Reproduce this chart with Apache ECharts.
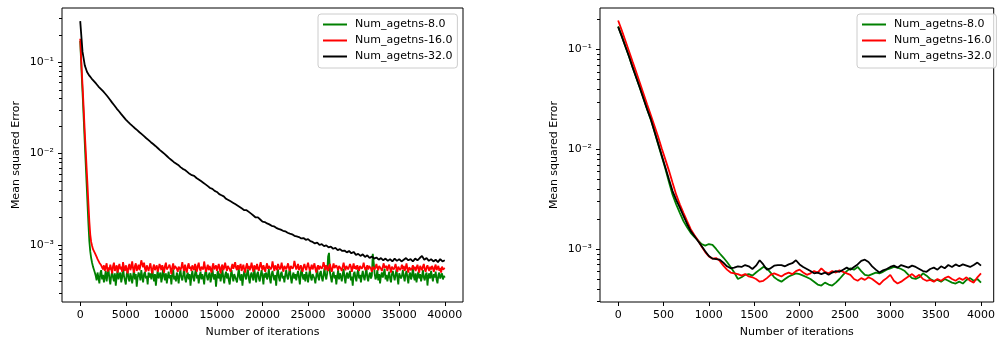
<!DOCTYPE html>
<html><head><meta charset="utf-8">
<script src="https://cdn.jsdelivr.net/npm/echarts/dist/echarts.min.js"></script>
<style>html,body{margin:0;padding:0;background:#fff}#c{width:998px;height:343px}</style>
</head><body><div id="c"></div>
<script>
const seriesNames = ['Num_agetns-8.0', 'Num_agetns-16.0', 'Num_agetns-32.0'];
const seriesColors = ['#008000', '#ff0000', '#000000'];

// Left panel: values in units of 1e-4
const leftUnit = 1e-4;
const leftGreenStep = 100;
const leftGreen = [1700,1000,600,370,220,130,78,47,28,17,11,8.5,7.2,6.4,5.8,5.4,5.0,
 4.6,4.1,5.0,4.4,3.8,4.9,5.3,4.2,4.7,3.9,4.5,5.2,4.0,4.8,5.5,4.3,3.7,4.6,5.1,4.4,
 4.0,4.9,3.6,4.5,5.3,4.2,4.7,5.0,3.9,4.4,5.6,4.6,4.1,3.7,4.8,5.2,4.3,4.0,4.9,4.5,
 3.8,4.6,5.4,4.2,4.8,3.5,4.4,5.0,4.7,4.1,5.3,4.5,3.9,4.8,5.1,4.3,4.6,3.7,5.0,4.4,
 4.9,4.2,5.5,4.6,4.0,4.8,3.6,4.5,5.2,4.3,4.7,5.0,3.9,4.4,5.7,4.6,4.1,4.9,3.8,4.5,
 5.1,4.3,4.7,3.7,4.9,5.4,4.2,4.6,4.0,5.0,4.5,3.8,4.8,5.3,4.4,4.1,4.7,5.6,4.3,3.9,
 4.6,5.0,4.2,4.8,3.6,4.5,5.2,4.4,4.0,4.9,5.5,4.3,4.7,3.8,4.6,5.1,4.2,4.8,4.4,3.7,
 4.9,5.3,4.5,4.1,4.7,5.0,3.9,4.4,5.6,4.6,4.2,4.8,3.5,4.5,5.2,4.3,4.9,4.0,4.6,5.4,
 4.4,3.8,4.7,5.1,4.3,4.9,4.1,3.7,4.6,5.3,4.5,4.0,4.8,5.0,4.2,3.9,4.7,5.5,4.4,4.1,
 4.8,3.6,4.5,5.2,4.6,4.2,4.9,5.4,4.3,3.8,4.7,5.0,4.4,4.1,5.6,4.6,3.9,4.8,5.1,4.3,
 4.0,4.7,5.3,4.5,3.7,4.9,4.4,5.0,4.2,4.6,5.5,4.3,3.8,4.8,5.2,4.5,4.1,4.7,3.6,4.9,
 5.4,4.4,4.0,4.8,5.1,4.3,4.6,3.9,4.7,5.3,4.5,4.2,4.9,5.6,4.4,3.8,4.6,5.0,4.3,4.8,
 4.1,4.7,5.2,4.4,3.7,4.9,5.5,4.5,4.2,4.8,4.0,5.1,4.6,3.9,4.7,5.3,4.4,4.1,4.8,5.0,
 4.3,3.8,4.6,5.4,4.5,4.1,4.9,5.2,4.4,4.0,4.7,5.6,4.6,4.2,4.9,7.5,8.2,5.0,4.4,3.9,
 4.8,5.1,4.3,4.7,3.7,4.6,5.3,4.2,4.9,4.5,4.0,4.8,5.5,4.4,3.8,4.7,5.0,4.3,4.6,5.2,
 4.1,4.5,3.6,4.8,5.1,4.4,4.0,4.9,5.4,4.3,4.7,3.9,4.6,5.2,4.5,4.1,4.8,5.7,4.4,4.0,
 4.7,5.0,4.3,4.6,8.0,6.5,4.9,4.2,4.5,5.3,4.1,4.8,3.8,4.6,5.0,4.4,4.9,5.5,4.2,4.7,
 4.0,4.5,5.1,4.3,3.9,4.8,5.2,4.6,4.1,4.7,5.4,4.4,3.7,4.9,5.0,4.3,4.6,5.3,4.5,4.0,
 4.8,5.2,4.4,3.8,4.7,5.0,4.2,4.6,5.6,4.5,4.1,4.9,3.9,4.6,5.1,4.3,4.8,4.0,4.5,5.3,
 4.4,4.1,4.7,5.0,3.6,4.6,4.9,4.3,5.2,4.5,4.0,4.8,4.4,5.1,4.2,3.8,4.7,5.0,4.3,4.5,
 4.9,4.2,4.6,4.4];
const leftRedStep = 100;
const leftRed = [1800,1100,700,450,280,170,110,70,45,28,18,13,10.8,9.8,9.0,8.6,8.2,7.8,7.4,7.0,6.8,6.4,6.2,6.0,5.8,
 5.4,6.0,5.2,5.8,6.3,5.1,5.7,5.3,6.1,5.5,4.9,5.9,6.4,5.2,5.6,6.0,5.0,5.7,6.2,5.4,
 5.8,5.1,6.5,5.6,5.2,6.0,5.4,4.9,5.8,6.2,5.3,5.7,6.6,5.5,5.0,5.9,6.3,5.2,5.6,6.1,
 5.3,5.9,6.8,6.2,5.7,6.4,5.5,5.1,6.0,5.6,5.2,5.8,6.3,5.4,4.9,5.7,6.1,5.3,5.6,6.0,
 5.1,5.5,6.2,5.8,5.3,6.0,5.6,5.0,5.9,6.4,5.4,5.2,5.8,6.1,5.5,4.8,5.7,6.3,5.4,5.9,
 6.2,5.5,5.1,5.8,6.0,5.3,5.7,6.5,5.6,5.2,6.1,5.4,5.0,5.9,6.3,5.5,5.8,5.2,6.0,5.6,
 5.3,6.2,5.7,5.1,5.9,6.4,5.5,5.2,5.8,6.0,5.4,6.6,5.7,5.1,5.6,6.1,5.3,5.9,5.5,5.0,
 5.8,6.3,5.4,5.6,6.0,5.2,5.7,6.2,5.5,4.9,5.8,6.1,5.3,5.6,6.4,5.7,5.2,5.9,6.0,5.4,
 5.1,5.7,6.2,5.5,5.9,6.5,5.6,5.3,6.0,5.4,5.8,6.2,5.2,5.6,6.1,5.4,5.0,5.8,6.3,5.5,
 5.9,5.3,5.7,6.4,5.6,5.1,6.0,5.8,5.4,6.2,5.5,5.2,5.9,6.5,5.7,5.3,6.0,5.6,5.1,5.8,
 6.3,5.5,5.9,6.1,5.4,5.7,6.6,5.8,5.2,6.0,5.6,5.3,6.2,5.9,5.4,5.7,6.4,5.5,5.1,5.9,
 6.0,5.4,5.8,6.3,5.6,5.2,5.9,6.1,5.5,5.8,6.7,6.0,5.4,5.7,6.2,5.3,5.6,6.0,5.5,5.1,
 5.8,6.2,5.6,5.3,5.9,6.4,5.7,5.2,5.6,6.1,5.4,5.8,6.3,5.5,5.0,5.7,6.0,5.4,5.9,6.2,
 5.5,5.8,6.5,5.9,5.3,6.0,5.6,5.2,5.8,6.2,5.5,5.1,5.7,6.3,5.6,5.4,6.0,5.8,5.3,5.9,
 6.1,5.5,5.2,5.8,6.4,5.7,5.3,5.9,6.0,5.4,5.6,6.2,5.8,5.1,5.7,6.3,5.5,5.9,5.4,6.0,
 5.6,5.2,5.9,6.1,5.5,5.8,6.4,5.7,5.3,5.6,6.0,5.4,5.9,6.2,5.5,5.1,5.8,6.0,5.4,5.7,
 6.2,5.6,5.3,5.9,6.1,5.5,5.2,5.8,6.3,5.6,5.4,5.9,5.2,5.7,6.1,5.5,5.0,5.8,6.0,5.4,
 5.7,6.2,5.5,5.1,5.8,6.0,5.3,5.6,6.1,5.4,5.9,5.2,5.6,6.3,5.5,5.0,5.7,5.9,5.3,5.6,
 6.0,5.4,5.8,5.2,5.6,6.1,5.5,5.0,5.9,5.7,5.3,5.8,6.2,5.4,5.1,5.7,6.0,5.5,5.2,5.8,
 5.4,5.9,5.6,5.1,5.7,6.1,5.3,5.5,5.9,5.2,5.6,5.0,5.8,5.4,5.2,5.6];
const leftBlackStep = 250;
const leftBlack = [2800,1300,920,780,710,660,620,580,540,510,
 480,450,420,390,360,335,310,290,270,252,
 235,222,210,199,189,180,171,163,155,147,
 140,133,127,121,115,109,104,99,94,89,
 85,81,78,75,71,68,66,63,60,58,
 57,54,52,50,48,46,44,42,41,39,
 38,36,35,34,32,31,30,29,28,27,
 26,25,24,24,23,22,21,20,20,19,
 18,17.8,17.2,16.8,16.2,16.0,15.4,15.0,14.7,14.3,
 14.1,13.6,13.3,13.1,12.6,12.4,12.2,11.8,11.9,11.4,
 11.6,11.0,10.8,10.4,10.6,10.0,10.2,9.7,9.9,9.4,
 9.6,9.1,9.3,8.8,9.0,8.6,8.7,8.3,8.6,8.1,
 8.4,7.8,8.0,7.6,7.9,7.4,7.7,7.2,7.5,7.1,
 7.3,6.9,7.2,6.8,7.1,6.7,7.0,6.6,7.1,6.7,
 7.0,6.6,6.9,7.2,6.8,7.0,6.6,7.1,6.8,7.2,
 7.6,6.9,7.2,6.7,7.0,6.6,6.9,6.5,7.0,6.6,
 6.8];

// Right panel: iterations 0..4000 sampled every 40
const rightStep = 40;
const rightGreen = [0.170,0.136,0.107,0.085,0.066,0.052,0.041,0.032,0.025,0.0198,
 0.0150,0.0113,0.0085,0.0064,0.0047,0.0035,0.0028,0.0023,0.0019,0.00165,
 0.00145,0.00132,0.00122,0.00112,0.00108,0.00112,0.00110,0.00100,0.00090,0.00082,
 0.00074,0.00066,0.00058,0.00050,0.00052,0.00055,0.00056,0.00054,0.00058,0.00062,
 0.00066,0.00064,0.00058,0.00052,0.00049,0.00047,0.00050,0.00053,0.00055,0.00057,
 0.00056,0.00054,0.00052,0.00050,0.00047,0.00044,0.00043,0.00046,0.00044,0.00043,
 0.00046,0.00050,0.00055,0.00060,0.00064,0.00062,0.00066,0.00060,0.00055,0.00054,
 0.00056,0.00058,0.00057,0.00059,0.00062,0.00064,0.00066,0.00065,0.00063,0.00060,
 0.00055,0.00051,0.00050,0.00052,0.00057,0.00054,0.00050,0.00048,0.00049,0.00047,
 0.00050,0.00048,0.00046,0.00045,0.00047,0.00045,0.00049,0.00051,0.00048,0.00050,
 0.00046];
const rightRed = [0.195,0.155,0.122,0.096,0.075,0.059,0.046,0.036,0.028,0.022,
 0.0172,0.0134,0.0102,0.0079,0.0061,0.0046,0.0035,0.0028,0.0023,0.0019,
 0.00158,0.00138,0.00122,0.00106,0.00093,0.00084,0.00080,0.00081,0.00076,0.00068,
 0.00062,0.00058,0.00057,0.00056,0.00054,0.00056,0.00053,0.00052,0.00050,0.00047,
 0.00048,0.00051,0.00055,0.00057,0.00055,0.00053,0.00056,0.00058,0.00056,0.00060,
 0.00062,0.00058,0.00055,0.00057,0.00060,0.00058,0.00064,0.00059,0.00057,0.00060,
 0.00058,0.00061,0.00059,0.00057,0.00055,0.00050,0.00048,0.00051,0.00049,0.00052,
 0.00050,0.00047,0.00044,0.00048,0.00051,0.00055,0.00048,0.00045,0.00047,0.00050,
 0.00053,0.00056,0.00052,0.00055,0.00050,0.00048,0.00049,0.00047,0.00050,0.00048,
 0.00051,0.00053,0.00050,0.00048,0.00051,0.00049,0.00052,0.00048,0.00046,0.00052,
 0.00057];
const rightBlack = [0.168,0.135,0.107,0.085,0.066,0.052,0.041,0.032,0.025,0.020,
 0.0151,0.0115,0.0087,0.0066,0.0050,0.0038,0.0031,0.0026,0.00214,0.00178,
 0.00151,0.00135,0.0012,0.00107,0.00095,0.00085,0.00080,0.00079,0.00078,0.00073,
 0.00067,0.00064,0.00065,0.00067,0.00066,0.00069,0.00067,0.00063,0.00068,0.00077,
 0.00070,0.00062,0.00064,0.00068,0.00069,0.00069,0.00067,0.00070,0.00072,0.00077,
 0.00070,0.00066,0.00063,0.00060,0.00057,0.00058,0.00056,0.00058,0.00055,0.00058,
 0.00060,0.00059,0.00062,0.00065,0.00062,0.00066,0.00070,0.00076,0.00078,0.00074,
 0.00067,0.00062,0.00058,0.00061,0.00063,0.00066,0.00068,0.00065,0.00069,0.00067,
 0.00065,0.00068,0.00066,0.00063,0.00060,0.00059,0.00063,0.00065,0.00062,0.00067,
 0.00064,0.00069,0.00066,0.00070,0.00067,0.00070,0.00068,0.00066,0.00069,0.00073,
 0.00068];

const xTicksLeft = [0,5000,10000,15000,20000,25000,30000,35000,40000];
const xTicksRight = [0,500,1000,1500,2000,2500,3000,3500,4000];
const yMajorTicks = [0.001, 0.01, 0.1];
const yMajorLabels = ['10\u207B\u00B3', '10\u207B\u00B2', '10\u207B\u00B9'];
const yMinorLeft = [0.0003,0.0004,0.0005,0.0006,0.0007,0.0008,0.0009,
 0.002,0.003,0.004,0.005,0.006,0.007,0.008,0.009,
 0.02,0.03,0.04,0.05,0.06,0.07,0.08,0.09,0.2,0.3];
const yMinorRight = [0.0003,0.0004,0.0005,0.0006,0.0007,0.0008,0.0009,
 0.002,0.003,0.004,0.005,0.006,0.007,0.008,0.009,
 0.02,0.03,0.04,0.05,0.06,0.07,0.08,0.09,0.2];

const leftRange = { xmin: -2000, xmax: 42000, ymin: 2.38e-4, ymax: 0.39 };
const rightRange = { xmin: -200, xmax: 4140, ymin: 2.94e-4, ymax: 0.26 };

const FONT = 'DejaVu Sans';
const FS = 11;

function pairs(step, arr, unit) {
  return arr.map((v, i) => [i * step, v * unit]);
}
function yLabel(v) {
  for (let i = 0; i < yMajorTicks.length; i++) {
    if (Math.abs(v - yMajorTicks[i]) / yMajorTicks[i] < 1e-6) return yMajorLabels[i];
  }
  return '';
}
function xAxisCfg(gi, r, ticks) {
  return {
    type: 'value', gridIndex: gi, min: r.xmin, max: r.xmax,
    axisLine: { show: false, onZero: false },
    splitLine: { show: false },
    axisTick: { show: true, customValues: ticks, length: 4, lineStyle: { color: '#000', width: 1 } },
    axisLabel: { customValues: ticks, color: '#000', fontSize: FS, fontFamily: FONT, margin: 8,
      formatter: (v) => String(v) },
    name: 'Number of iterations', nameLocation: 'middle', nameGap: 25,
    nameTextStyle: { color: '#000', fontSize: FS, fontFamily: FONT }
  };
}
function yAxisCfg(gi, r) {
  return {
    type: 'log', logBase: 10, gridIndex: gi, min: r.ymin, max: r.ymax,
    axisLine: { show: false, onZero: false },
    splitLine: { show: false },
    minorTick: { show: false },
    axisTick: { show: true, customValues: yMajorTicks, length: 4, lineStyle: { color: '#000', width: 1 } },
    axisLabel: { customValues: yMajorTicks, margin: 8, formatter: yLabel,
      color: '#000', fontSize: FS, fontFamily: FONT },
    name: 'Mean squared Error', nameLocation: 'middle', nameRotate: 90, nameGap: 40,
    nameTextStyle: { color: '#000', fontSize: FS, fontFamily: FONT }
  };
}
function minorTickSeries(gi, r, ticks) {
  return {
    type: 'custom', xAxisIndex: gi, yAxisIndex: gi, clip: false, silent: true, z: 5,
    data: ticks.map(v => [r.xmin, v]),
    renderItem: function (params, api) {
      const p = api.coord([api.value(0), api.value(1)]);
      const y = Math.round(p[1]) + 0.5;
      return { type: 'line', shape: { x1: p[0] - 3, y1: y, x2: p[0], y2: y },
        style: { stroke: '#000', lineWidth: 1 } };
    }
  };
}
function lineSeries(name, color, data, xi, yi) {
  return {
    type: 'line', name: name, data: data, xAxisIndex: xi, yAxisIndex: yi,
    showSymbol: false, symbol: 'none', sampling: null,
    lineStyle: { color: color, width: 1.8 }, itemStyle: { color: color },
    emphasis: { disabled: true }, silent: true, z: 3
  };
}
function legendCfg(left) {
  return {
    data: seriesNames, orient: 'vertical', left: left, top: 14,
    itemWidth: 24, itemHeight: 12, itemGap: 5,
    padding: [5, 5, 6, 4],
    borderColor: '#cccccc', borderWidth: 1, borderRadius: 3,
    backgroundColor: 'rgba(255,255,255,0.8)',
    itemStyle: { opacity: 0 },
    textStyle: { color: '#000', fontSize: FS, fontFamily: FONT, padding: [0, 0, 0, 3] },
    selectedMode: false
  };
}

const series = [];
series.push(lineSeries(seriesNames[0], seriesColors[0], pairs(leftGreenStep, leftGreen, leftUnit), 0, 0));
series.push(lineSeries(seriesNames[1], seriesColors[1], pairs(leftRedStep, leftRed, leftUnit), 0, 0));
series.push(lineSeries(seriesNames[2], seriesColors[2], pairs(leftBlackStep, leftBlack, leftUnit), 0, 0));
const rightData = [rightGreen, rightRed, rightBlack];
seriesNames.forEach((n, k) => series.push(lineSeries(n, seriesColors[k], pairs(rightStep, rightData[k], 1), 1, 1)));
series.push(minorTickSeries(0, leftRange, yMinorLeft));
series.push(minorTickSeries(1, rightRange, yMinorRight));

const chart = echarts.init(document.getElementById('c'), null, { renderer: 'canvas' });
chart.setOption({
  animation: false,
  backgroundColor: '#ffffff',
  grid: [
    { left: 62, top: 8, width: 401, height: 299, show: true, borderColor: '#000', borderWidth: 1, backgroundColor: 'transparent' },
    { left: 600, top: 8, width: 397, height: 299, show: true, borderColor: '#000', borderWidth: 1, backgroundColor: 'transparent' }
  ],
  xAxis: [xAxisCfg(0, leftRange, xTicksLeft), xAxisCfg(1, rightRange, xTicksRight)],
  yAxis: [yAxisCfg(0, leftRange), yAxisCfg(1, rightRange)],
  legend: [legendCfg(318), legendCfg(857)],
  series: series
});
</script>
</body></html>
